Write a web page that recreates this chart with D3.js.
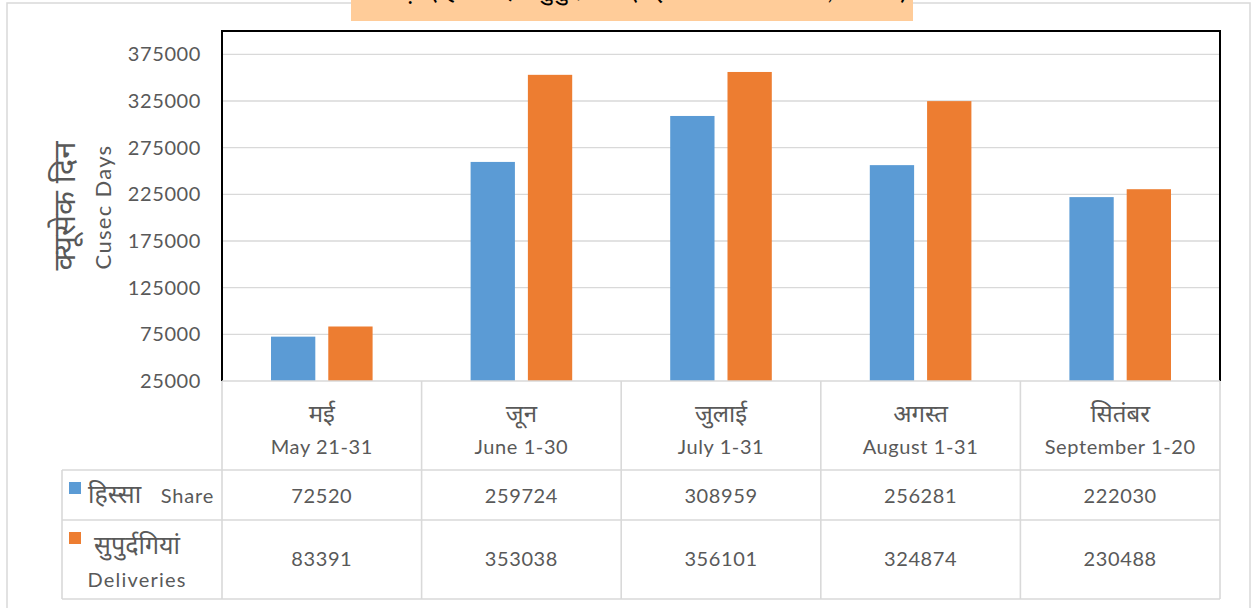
<!DOCTYPE html>
<html><head><meta charset="utf-8">
<script src="https://cdn.jsdelivr.net/npm/d3@7"></script>
<style>
html,body{margin:0;padding:0;background:#fff;}
svg text{font-family:Lato,"Noto Sans Devanagari","Noto Sans",sans-serif;fill:#595959;}
</style></head>
<body><svg id="c" width="1254" height="608"></svg>
<script>
const categoriesHi = ["मई", "जून", "जुलाई", "अगस्त", "सितंबर"];
const categoriesEn = ["May 21-31", "June 1-30", "July 1-31", "August 1-31", "September 1-20"];
const share = [72520, 259724, 308959, 256281, 222030];
const deliveries = [83391, 353038, 356101, 324874, 230488];
const yTicks = [25000, 75000, 125000, 175000, 225000, 275000, 325000, 375000];
const seriesNames = [["हिस्सा", "Share"], ["सुपुर्दगियां", "Deliveries"]];
const titleText = "भाखड़ा (हिस्सा एवं सुपुर्दगियां (मई 21 - सितंबर 20, 2020)";

const svg = d3.select("#c");
const L = 222, R = 1220, T = 31, B = 381;
const grid = "#d9d9d9", txt = "#595959";
const blue = "#5B9BD5", orange = "#ED7D31";

// outer chart frame
svg.append("rect").attr("x", 7).attr("y", 3).attr("width", 1243).attr("height", 640)
  .attr("fill", "none").attr("stroke", grid).attr("stroke-width", 1.5);

// title box (cut off at top, as in the reference)
svg.append("rect").attr("x", 351).attr("y", -10).attr("width", 562).attr("height", 31).attr("fill", "#FFCC99");
svg.append("text").attr("x", 632).attr("y", -1).attr("text-anchor", "middle")
  .style("font-size", "26px").style("fill", "#000").text(titleText);

const x = d3.scaleBand().domain(categoriesEn).range([L, R]);
const y = d3.scaleLinear().domain([25000, 400000]).range([B, T]);

// gridlines
svg.append("g").selectAll("line").data(yTicks.slice(1)).join("line")
  .attr("x1", L).attr("x2", R).attr("y1", d => y(d)).attr("y2", d => y(d))
  .attr("stroke", grid).attr("stroke-width", 1.3);

// y axis labels
const yAxis = svg.append("g").attr("transform", `translate(${L},0)`)
  .call(d3.axisLeft(y).tickValues(yTicks).tickFormat(d3.format("d")).tickSize(0).tickPadding(21));
yAxis.select(".domain").remove();
yAxis.selectAll("text").style("font-size", "20px").style("fill", txt).style("font-family", "Lato").attr("letter-spacing", "0.6");

// bars
const bw = x.bandwidth() * 0.222, gap = x.bandwidth() * 0.065;
const off = (x.bandwidth() - 2 * bw - gap) / 2;
svg.append("g").selectAll("rect").data(share).join("rect")
  .attr("x", (d, i) => x(categoriesEn[i]) + off).attr("width", bw)
  .attr("y", d => y(d)).attr("height", d => y(25000) - y(d)).attr("fill", blue);
svg.append("g").selectAll("rect").data(deliveries).join("rect")
  .attr("x", (d, i) => x(categoriesEn[i]) + off + bw + gap).attr("width", bw)
  .attr("y", d => y(d)).attr("height", d => y(25000) - y(d)).attr("fill", orange);

// plot border (black) left, top, right
svg.append("path").attr("d", `M${L},${B}V${T}H${R}V${B}`).attr("fill", "none").attr("stroke", "#000").attr("stroke-width", 2);

// data table
const rowShare = 470, rowDel = 520, rowEnd = 599, tL = 62;
const tg = svg.append("g").attr("stroke", grid).attr("stroke-width", 1.6);
tg.append("line").attr("x1", L).attr("x2", R).attr("y1", B).attr("y2", B);
[rowShare, rowDel, rowEnd].forEach(yy => tg.append("line").attr("x1", tL).attr("x2", R).attr("y1", yy).attr("y2", yy));
tg.append("line").attr("x1", tL).attr("x2", tL).attr("y1", rowShare).attr("y2", rowEnd);
categoriesEn.concat(["_end"]).forEach((c, i) => {
  const xx = i < categoriesEn.length ? x(c) : R;
  tg.append("line").attr("x1", xx).attr("x2", xx).attr("y1", B).attr("y2", rowEnd);
});

// header texts
const cx = c => x(c) + x.bandwidth() / 2;
svg.append("g").selectAll("text").data(categoriesHi).join("text")
  .attr("x", (d, i) => cx(categoriesEn[i])).attr("y", 422).attr("text-anchor", "middle")
  .style("font-size", "24px").text(d => d);
svg.append("g").selectAll("text").data(categoriesEn).join("text")
  .attr("x", d => cx(d)).attr("y", 454).attr("text-anchor", "middle")
  .style("font-size", "20px").attr("letter-spacing", "0.6").text(d => d);

// values
const fmt = d3.format("d");
svg.append("g").selectAll("text").data(share).join("text")
  .attr("x", (d, i) => cx(categoriesEn[i])).attr("y", 503).attr("text-anchor", "middle")
  .style("font-size", "20px").attr("letter-spacing", "0.6").text(fmt);
svg.append("g").selectAll("text").data(deliveries).join("text")
  .attr("x", (d, i) => cx(categoriesEn[i])).attr("y", 566).attr("text-anchor", "middle")
  .style("font-size", "20px").attr("letter-spacing", "0.6").text(fmt);

// legend keys
svg.append("rect").attr("x", 69).attr("y", 482).attr("width", 12).attr("height", 12).attr("fill", blue);
svg.append("rect").attr("x", 69).attr("y", 532).attr("width", 12).attr("height", 12).attr("fill", orange);
svg.append("text").attr("x", 88).attr("y", 503).style("font-size", "25px").text(seriesNames[0][0]);
svg.append("text").attr("x", 214).attr("y", 503).attr("text-anchor", "end").style("font-size", "20px").attr("letter-spacing", "0.8").text(seriesNames[0][1]);
svg.append("text").attr("x", 137).attr("y", 554).attr("text-anchor", "middle").style("font-size", "25px").text(seriesNames[1][0]);
svg.append("text").attr("x", 137).attr("y", 587).attr("text-anchor", "middle").style("font-size", "20px").attr("letter-spacing", "1.2").text(seriesNames[1][1]);

// y axis titles
svg.append("text").attr("transform", "translate(75,206) rotate(-90)").attr("text-anchor", "middle")
  .style("font-size", "31px").text("क्यूसेक दिन");
svg.append("text").attr("transform", "translate(111,207) rotate(-90)").attr("text-anchor", "middle")
  .style("font-size", "22px").attr("letter-spacing", "1.3").text("Cusec Days");
</script></body></html>
